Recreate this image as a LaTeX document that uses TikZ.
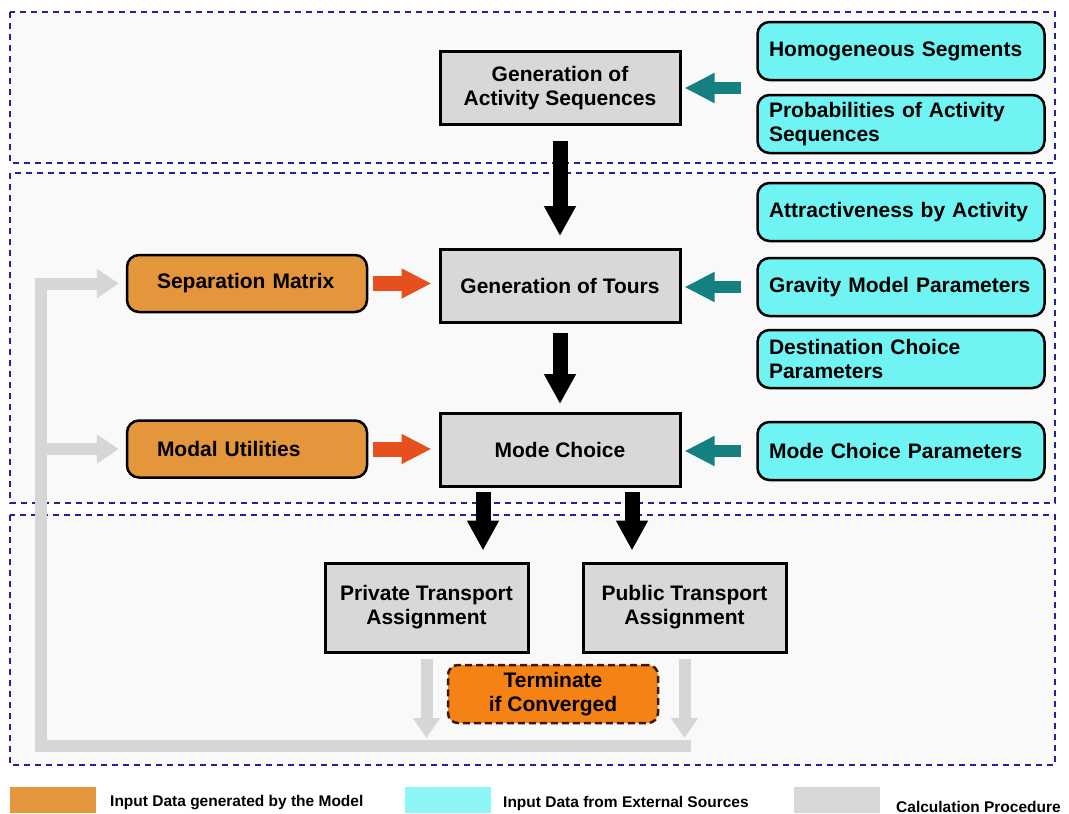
\documentclass[tikz,border=0pt]{standalone}
\usepackage{fontspec}
\setmainfont{Liberation Sans}
\usetikzlibrary{arrows.meta}
\newcommand{\boxfont}{\fontsize{21}{24}\selectfont\bfseries}
\newcommand{\legfont}{\fontsize{15.5}{18}\selectfont\bfseries}

\begin{document}
\begin{tikzpicture}[x=1pt, y=-1pt]
  \definecolor{calcgray}{RGB}{216,216,216}
  \definecolor{extcyan}{RGB}{112,243,243}
  \definecolor{modelorange}{RGB}{228,150,60}
  \definecolor{genred}{RGB}{230,80,30}
  \definecolor{extteal}{RGB}{20,128,128}
  \definecolor{termorange}{RGB}{245,130,20}
  \definecolor{termedge}{RGB}{60,25,10}
  \definecolor{loopgray}{RGB}{214,214,214}
  \definecolor{zoneblue}{RGB}{35,35,150}
  \definecolor{zonefill}{RGB}{249,249,249}
  \tikzstyle{zone}=[draw=zoneblue, line width=2pt, dash pattern=on 6pt off 5pt, fill=zonefill]
  \tikzstyle{calc}=[draw, line width=3pt, fill=calcgray, minimum width=240pt, minimum height=73pt, align=center, font=\boxfont, inner sep=0pt]
  \tikzstyle{ext}=[draw, line width=2.5pt, rounded corners=12pt, fill=extcyan, minimum width=287pt, minimum height=58pt, text width=264pt, align=left, font=\boxfont, inner sep=0pt]
  \tikzstyle{model}=[draw, line width=2.5pt, rounded corners=12pt, fill=modelorange, minimum width=240pt, minimum height=57pt, text width=180pt, align=left, font=\boxfont, inner sep=0pt]
  \tikzstyle{term}=[draw=termedge, line width=2.5pt, dash pattern=on 7pt off 4pt, rounded corners=10pt, fill=termorange, minimum width=210pt, minimum height=58pt, align=center, font=\boxfont, inner sep=0pt]
  \tikzstyle{blk}=[draw=black, line width=15pt, -{Triangle[length=30pt, width=30pt]}]
  \tikzstyle{inarr}=[draw=extteal, line width=12pt, -{Triangle[length=30pt, width=28pt]}, shorten <=15pt, shorten >=3pt]
  \tikzstyle{genarr}=[draw=genred, line width=15pt, -{Triangle[length=30pt, width=28pt]}, shorten <=5pt, shorten >=7pt]
  \tikzstyle{fb}=[draw=loopgray, line width=12pt]
  \tikzstyle{swatch}=[minimum width=86pt, minimum height=26pt, inner sep=0pt]
  \tikzstyle{legtxt}=[font=\legfont, anchor=west, inner sep=0pt]

  \useasboundingbox (0,0) rectangle (1069,814);

  % three dashed stages
  \draw[zone] (10,12) rectangle (1055,163);
  \draw[zone] (10,173) rectangle (1055,503);
  \draw[zone] (10,515) rectangle (1055,765);

  % calculation steps, centre column
  \node[calc] (gas) at (560,88) {Generation of\\Activity Sequences};
  \node[calc] (gt) at (560,286) {Generation of Tours};
  \node[calc] (mc) at (560,450) {Mode Choice};
  \node[calc, minimum width=203pt, minimum height=89pt] (pta) at (426.5,607.5) {Private Transport\\Assignment};
  \node[calc, minimum width=203pt, minimum height=89pt] (pub) at (684.5,607.5) {Public Transport\\Assignment};

  % external inputs on the right
  \node[ext] (hs) at (901,51) {Homogeneous Segments};
  \node[ext] (pas) at (901,124) {Probabilities of Activity\\Sequences};
  \node[ext] (aba) at (901,212) {Attractiveness by Activity};
  \node[ext] (gmp) at (901,287) {Gravity Model Parameters};
  \node[ext] (dcp) at (901,359) {Destination Choice\\Parameters};
  \node[ext] (mcp) at (901,451) {Mode Choice Parameters};

  % model generated inputs on the left
  \node[model] (sm) at (247,283.5) {Separation Matrix};
  \node[model] (mu) at (247,449) {Modal Utilities};

  \node[term] (tc) at (553,694) {Terminate\\if Converged};

  % feedback loop
  \coordinate (fbR) at (691,746);
  \coordinate (fbL) at (41,746);
  \draw[fb, -{Triangle[length=20pt, width=26pt]}, shorten <=5pt, shorten >=8pt] (pta.south) -- (pta.south |- fbR);
  \draw[fb, -{Triangle[length=20pt, width=26pt]}, shorten <=5pt, shorten >=8pt] (pub.south) -- (pub.south |- fbR);
  \draw[fb, -{Triangle[length=22pt, width=28pt]}, shorten >=7pt] (fbR) -- (fbL) |- (sm.west);
  \draw[fb, -{Triangle[length=22pt, width=28pt]}, shorten >=7pt] (fbL |- mu.west) -- (mu.west);

  % main flow
  \draw[blk, shorten <=15pt, shorten >=12pt] (gas) -- (gt);
  \draw[blk, shorten <=9pt, shorten >=8pt] (gt) -- (mc);
  \draw[blk, shorten <=4pt, shorten >=11pt] ([xshift=-77pt]mc.south) -- ([xshift=56.5pt]pta.north);
  \draw[blk, shorten <=4pt, shorten >=11pt] ([xshift=72pt]mc.south) -- ([xshift=-52.5pt]pub.north);

  \draw[inarr] (gas.east -| hs.west) -- (gas.east);
  \draw[inarr] (gmp.west) -- (gmp.west -| gt.east);
  \draw[inarr] (mcp.west) -- (mcp.west -| mc.east);

  \draw[genarr] (sm.east) -- (sm.east -| gt.west);
  \draw[genarr] (mu.east) -- (mu.east -| mc.west);

  % legend
  \node[swatch, fill=modelorange] (lgm) at (53,800) {};
  \node[legtxt] (lgmt) at (110,803) {Input Data generated by the Model};
  \node[swatch, fill=extcyan!80!white] (lge) at (448,800) {};
  \node[legtxt] (lget) at (503,803) {Input Data from External Sources};
  \node[swatch, fill=calcgray] (lgc) at (837,800) {};
  \node[legtxt] (lgct) at (896,807) {Calculation Procedure};
\end{tikzpicture}
\end{document}
